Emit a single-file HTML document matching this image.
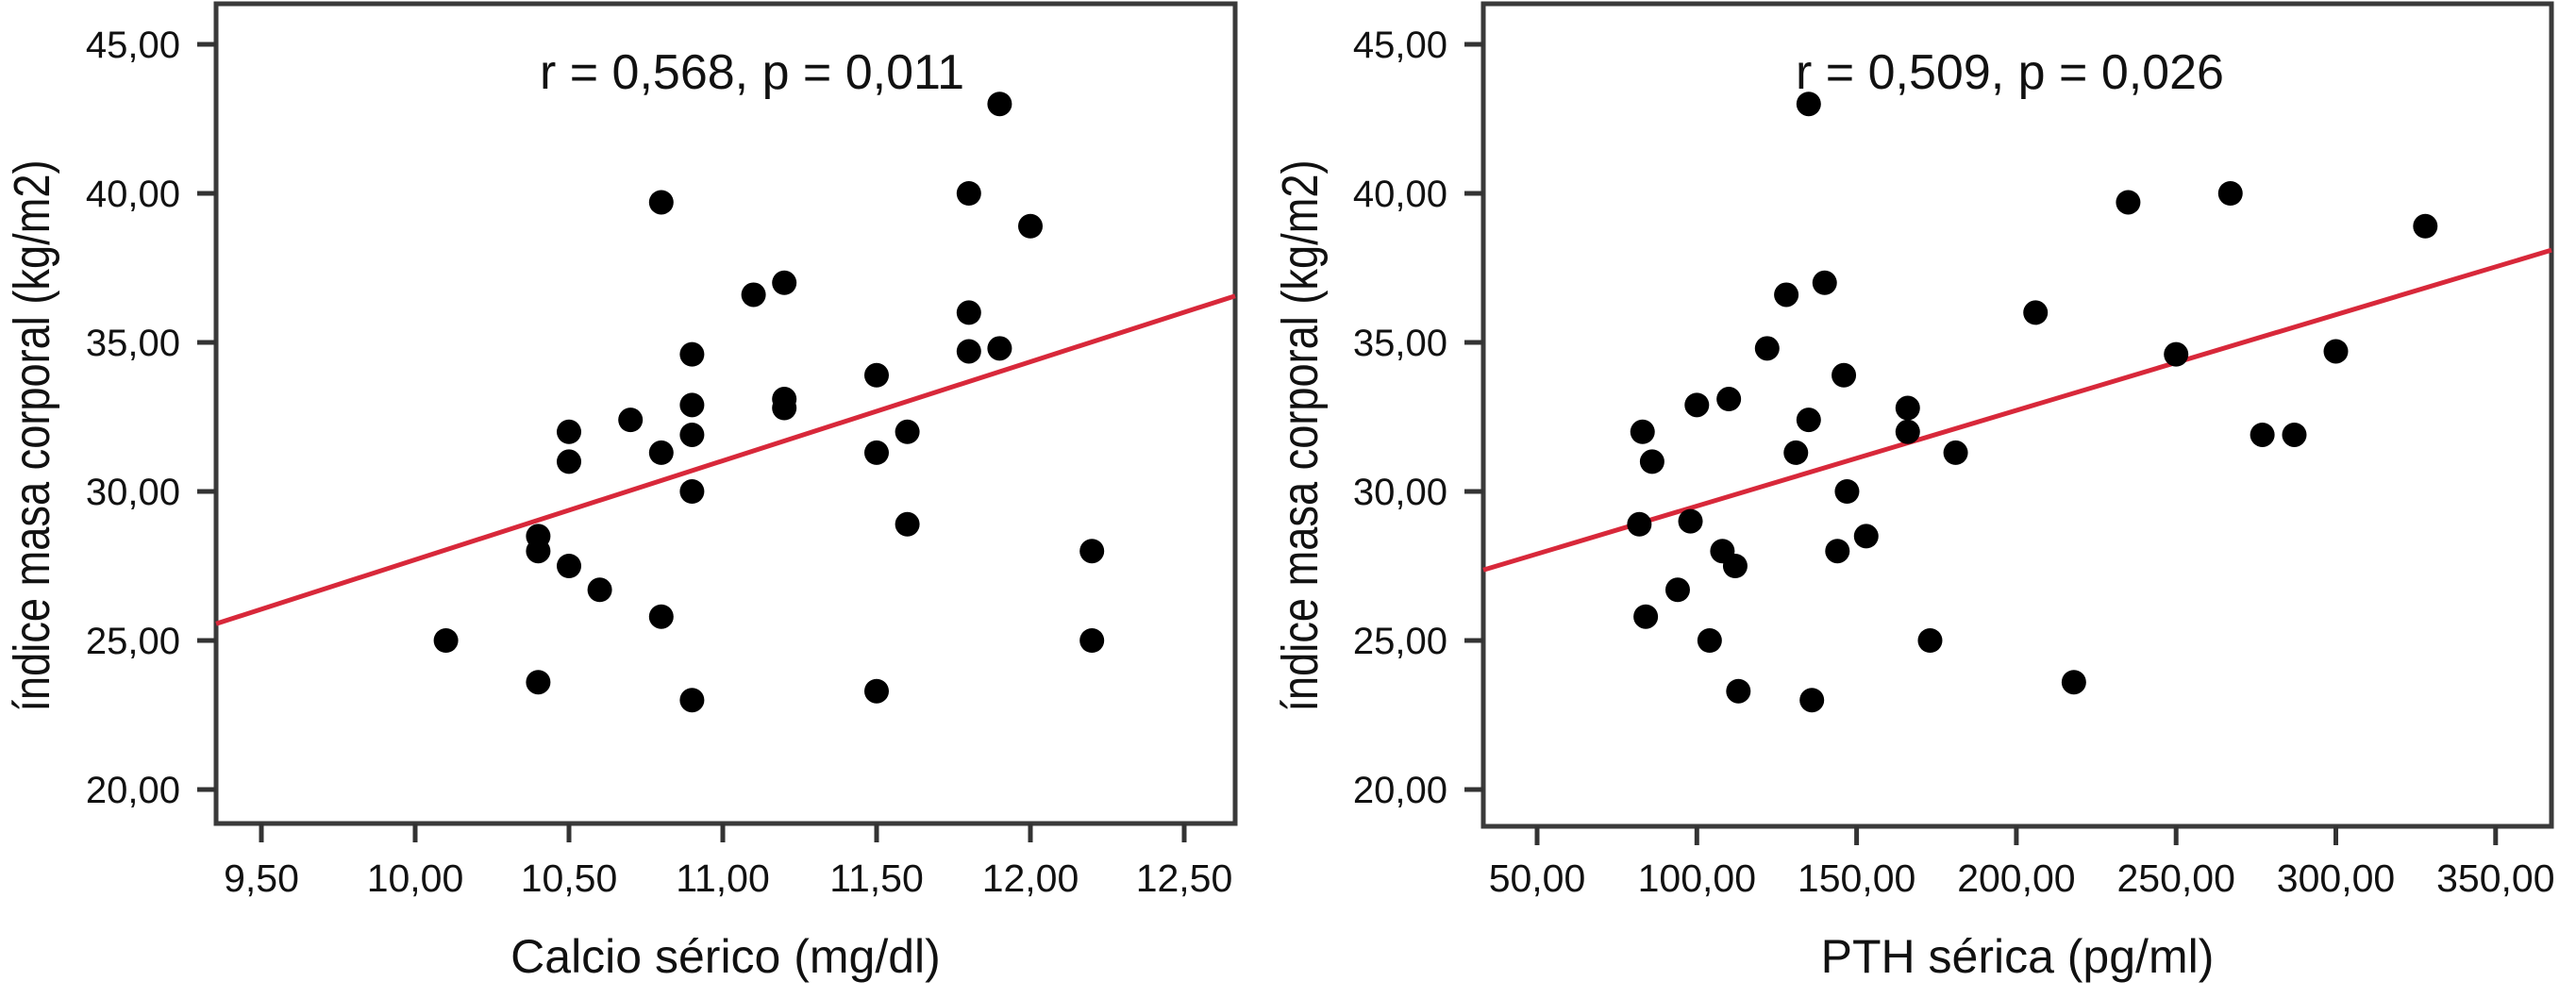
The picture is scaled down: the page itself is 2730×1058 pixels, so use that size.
<!DOCTYPE html>
<html><head><meta charset="utf-8"><style>
html,body{margin:0;padding:0;background:#fff;}
svg{display:block;font-family:"Liberation Sans",sans-serif;}
</style></head><body>
<svg id="c" width="2730" height="1058" xmlns="http://www.w3.org/2000/svg"></svg>
<script>
const leftX=[10.1,10.4,10.4,10.4,10.5,10.5,10.5,10.6,10.7,10.8,10.8,10.8,10.9,10.9,10.9,10.9,10.9,11.1,11.2,11.2,11.2,11.5,11.5,11.5,11.6,11.6,11.8,11.8,11.8,11.9,11.9,12.0,12.2,12.2];
const leftY=[25.0,28.5,28.0,23.6,32.0,31.0,27.5,26.7,32.4,39.7,31.3,25.8,34.6,32.9,31.9,30.0,23.0,36.6,37.0,33.1,32.8,33.9,31.3,23.3,32.0,28.9,40.0,36.0,34.7,43.0,34.8,38.9,28.0,25.0];
const leftFit=[3.32,-5.49];
const leftXTicks=[9.5,10,10.5,11,11.5,12,12.5];
const rightX=[135,235,267,328,140,128,206,122,250,300,146,110,100,166,135,83,166,277,287,86,131,181,147,82,98,153,108,144,112,94,84,104,173,113,218,136];
const rightY=[43.0,39.7,40.0,38.9,37.0,36.6,36.0,34.8,34.6,34.7,33.9,33.1,32.9,32.8,32.4,32.0,32.0,31.9,31.9,31.0,31.3,31.3,30.0,28.9,29.0,28.5,28.0,28.0,27.5,26.7,25.8,25.0,25.0,23.3,23.6,23.0];
const rightFit=[0.0321,26.30];
const rightXTicks=[50,100,150,200,250,300,350];
const yTicks=[20,25,30,35,40,45];
const NS="http://www.w3.org/2000/svg";
const svg=document.getElementById('c');
function mk(t,a,p){const e=document.createElementNS(NS,t);for(const k in a)e.setAttribute(k,a[k]);(p||svg).appendChild(e);return e;}
function fmt(v){return v.toFixed(2).replace('.',',');}
function panel(o){
  const g=mk('g',{});
  
  
  const sx=v=>o.x0+(v-o.xv0)*o.xs;
  const sy=v=>47+(45-v)*31.6;
  const fr=mk('rect',{x:o.L,y:4,width:o.R-o.L,height:o.B-4,fill:'none',stroke:'#3a3a3a','stroke-width':5},g);
  
  
  yTicks.forEach(v=>{
    const y=sy(v);
    const tk=mk('line',{x1:o.L-20,x2:o.L,y1:y,y2:y,stroke:'#333','stroke-width':5},g);
    
    
    const t=mk('text',{x:o.L-38,y:y+14,'font-size':40,'text-anchor':'end',fill:'#111'},g);
    t.textContent=fmt(v);
    
    
  });
  o.xt.forEach(v=>{
    const x=sx(v);
    const tk=mk('line',{x1:x,x2:x,y1:o.B,y2:o.B+20,stroke:'#333','stroke-width':5},g);
    
    
    const t=mk('text',{x:x,y:945,'font-size':41,'text-anchor':'middle',fill:'#111'},g);
    t.textContent=fmt(v);
    
    
  });
  const xa=(o.L-o.x0)/o.xs+o.xv0, xb=(o.R-o.x0)/o.xs+o.xv0;
  const ln=mk('line',{x1:o.L,y1:sy(o.fit[0]*xa+o.fit[1]),x2:o.R,y2:sy(o.fit[0]*xb+o.fit[1]),stroke:'#d8283a','stroke-width':5},g);
  
  
  o.xs_.forEach((xv,i)=>{
    const c=mk('circle',{cx:sx(xv),cy:sy(o.ys[i]),r:13,fill:'#000'},g);
    
    
  });
  const an=mk('text',{x:o.ax,y:94,'font-size':52,'text-anchor':'middle',fill:'#111'},g);
  an.textContent=o.ann;
  
  
  const xt=mk('text',{x:(o.L+o.R)/2,y:1031,'font-size':50,'text-anchor':'middle',fill:'#111'},g);
  xt.textContent=o.xtitle;
  
  
  const yt=mk('text',{x:0,y:0,'font-size':54,'text-anchor':'middle',fill:'#111',textLength:585,lengthAdjust:'spacingAndGlyphs',transform:`translate(${o.ytx},462) rotate(-90)`},g);
  yt.textContent='índice masa corporal (kg/m2)';
  
  
}
panel({name:'calcio-chart',L:229,R:1309,B:873,x0:277,xv0:9.5,xs:326,xt:leftXTicks,xs_:leftX,ys:leftY,fit:leftFit,ax:797,ann:'r = 0,568, p = 0,011',xtitle:'Calcio sérico (mg/dl)',ytx:52});
panel({name:'pth-chart',L:1572,R:2704,B:876,x0:1629,xv0:50,xs:169.3/50,xt:rightXTicks,xs_:rightX,ys:rightY,fit:rightFit,ax:2130,ann:'r = 0,509, p = 0,026',xtitle:'PTH sérica (pg/ml)',ytx:1396});
</script>
</body></html>
